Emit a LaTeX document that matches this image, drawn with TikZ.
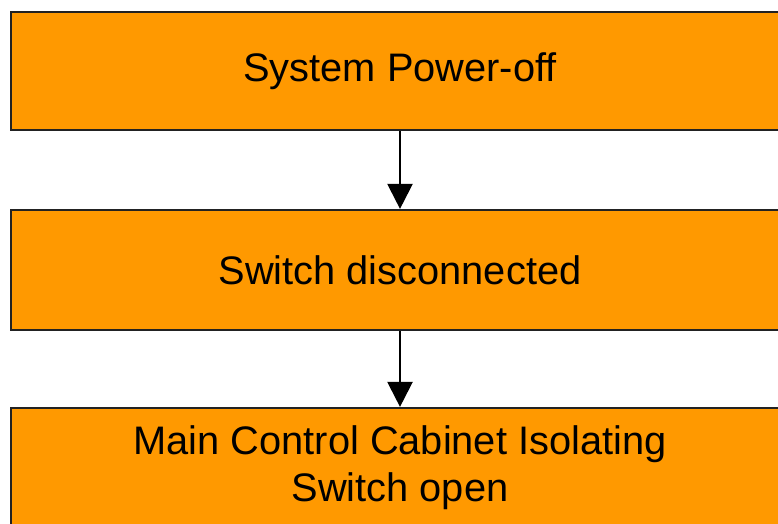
\documentclass[tikz,border=0pt]{standalone}
\usepackage{fontspec}
\setmainfont{Liberation Sans}
\usetikzlibrary{arrows.meta}
\definecolor{boxfill}{HTML}{FF9900}
\definecolor{boxline}{HTML}{222222}
\begin{document}
\begin{tikzpicture}[x=1pt,y=1pt,
  stepbox/.style={draw=boxline, line width=2.2pt, fill=boxfill, rectangle,
    minimum width=778pt, inner sep=0pt, align=center,
    font=\fontsize{39.8}{47}\selectfont},
  flow/.style={line width=2.3pt, -{Triangle[length=25pt,width=25pt]}}]
\useasboundingbox (0,0) rectangle (778,-524);
\clip (0,0) rectangle (778,-524);
\node[stepbox, minimum height=118pt] (a) at (400,-71) {System Power-off};
\node[stepbox, minimum height=120pt] (b) at (400,-270) {Switch disconnected};
\node[stepbox, minimum height=120pt] (c) at (400,-468) {Main Control Cabinet Isolating\\Switch open};
\draw[flow] (a) -- (b);
\draw[flow] (b) -- (c);
\end{tikzpicture}
\end{document}
